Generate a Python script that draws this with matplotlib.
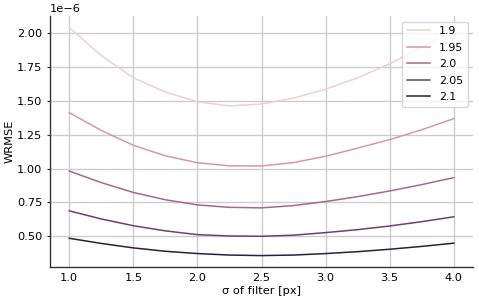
import numpy as np
import matplotlib
matplotlib.use("Agg")
import matplotlib.pyplot as plt
import seaborn as sns

sigma = [1.0, 1.25, 1.5, 1.75, 2.0, 2.25, 2.5, 2.75, 3.0, 3.25, 3.5, 3.75, 4.0]
labels = ["1.9", "1.95", "2.0", "2.05", "2.1"]
hue_values = [1.9, 1.95, 2.0, 2.05, 2.1]
s_19 = [2.044, 1.836, 1.672, 1.567, 1.495, 1.464, 1.478, 1.522, 1.588, 1.672, 1.776, 1.897, 2.032]
s_195 = [1.414, 1.283, 1.173, 1.095, 1.044, 1.021, 1.020, 1.045, 1.092, 1.152, 1.215, 1.288, 1.370]
s_20 = [0.982, 0.897, 0.824, 0.770, 0.732, 0.714, 0.710, 0.727, 0.757, 0.793, 0.835, 0.882, 0.934]
s_205 = [0.688, 0.628, 0.578, 0.540, 0.512, 0.502, 0.500, 0.508, 0.527, 0.549, 0.576, 0.608, 0.644]
s_21 = [0.485, 0.447, 0.414, 0.389, 0.372, 0.361, 0.357, 0.361, 0.372, 0.386, 0.404, 0.425, 0.449]
series = [s_19, s_195, s_20, s_205, s_21]

cmap = sns.cubehelix_palette(as_cmap=True)
norm = plt.Normalize(min(hue_values), max(hue_values))

fig = plt.figure(figsize=(4.79, 3.04), dpi=100)
ax = fig.add_axes([0.1044, 0.1217, 0.8831, 0.8253])

for lab, h, vals in zip(labels, hue_values, series):
    ax.plot(sigma, np.array(vals) * 1e-6, color=cmap(norm(h)), lw=1.1, label=lab)

ax.grid(True, color="#cccccc", lw=1.0)
ax.set_axisbelow(True)
for s in ["top", "right"]:
    ax.spines[s].set_visible(False)
for s in ["left", "bottom"]:
    ax.spines[s].set_color("#333333")
    ax.spines[s].set_linewidth(1.0)

ax.set_xticks([1.0, 1.5, 2.0, 2.5, 3.0, 3.5, 4.0])
ax.set_yticks(np.array([0.5, 0.75, 1.0, 1.25, 1.5, 1.75, 2.0]) * 1e-6)
ax.tick_params(labelsize=8.2, color="#333333")
ax.tick_params(axis="x", length=0, pad=4.5)
ax.tick_params(axis="y", length=2, width=0.8, pad=3.5)
ax.yaxis.get_offset_text().set_fontsize(8.2)
ax.set_xlabel("σ of filter [px]", fontsize=8.2, labelpad=2)
ax.set_ylabel("WRMSE", fontsize=8.2, labelpad=2)
ax.legend(loc="upper right", fontsize=7.9, handlelength=2.15, labelspacing=0.6,
          borderaxespad=0.5)

fig.savefig("out.png", dpi=100)
